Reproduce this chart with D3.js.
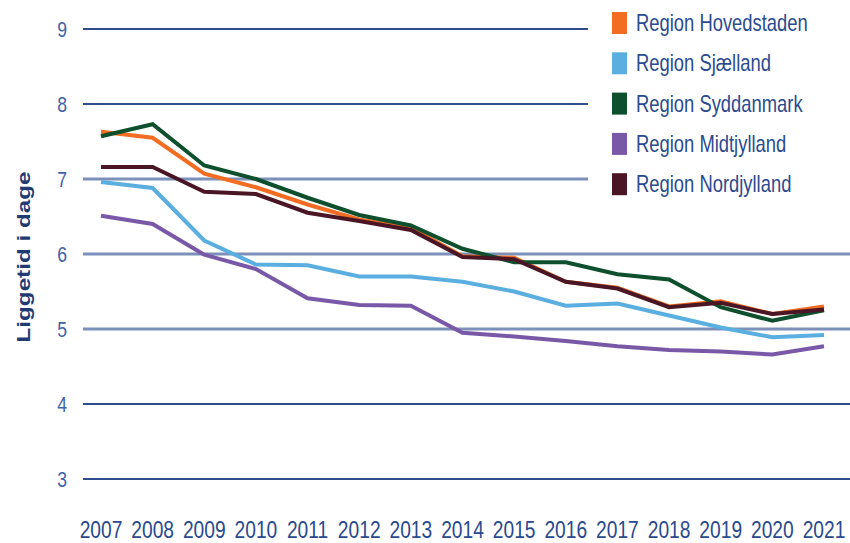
<!DOCTYPE html>
<html>
<head>
<meta charset="utf-8">
<title>Liggetid i dage</title>
<script src="https://d3js.org/d3.v7.min.js"></script>
<style>
  body { margin: 0; background: #fff; }
  text { font-family: "Liberation Sans", Arial, sans-serif; }
</style>
</head>
<body>
<div id="chart"></div>
<script>
// years on the x axis
var years = [2007, 2008, 2009, 2010, 2011, 2012, 2013, 2014, 2015, 2016, 2017, 2018, 2019, 2020, 2021];

// y tick values
var yTicks = [3, 4, 5, 6, 7, 8, 9];

// series values (days)
var hovedstaden = [7.63, 7.55, 7.07, 6.89, 6.66, 6.46, 6.35, 5.97, 5.95, 5.63, 5.55, 5.30, 5.37, 5.20, 5.30];
var sjaelland    = [6.96, 6.88, 6.18, 5.86, 5.85, 5.70, 5.70, 5.63, 5.50, 5.31, 5.34, 5.18, 5.02, 4.89, 4.92];
var syddanmark   = [7.57, 7.73, 7.18, 7.00, 6.75, 6.52, 6.38, 6.07, 5.89, 5.89, 5.73, 5.66, 5.29, 5.11, 5.25];
var midtjylland  = [6.51, 6.40, 5.99, 5.80, 5.41, 5.32, 5.31, 4.95, 4.90, 4.84, 4.77, 4.72, 4.70, 4.66, 4.77];
var nordjylland  = [7.16, 7.16, 6.83, 6.80, 6.55, 6.44, 6.32, 5.96, 5.93, 5.63, 5.54, 5.29, 5.35, 5.20, 5.26];

var seriesNames = ["Region Hovedstaden", "Region Sjælland", "Region Syddanmark", "Region Midtjylland", "Region Nordjylland"];
var seriesValues = [hovedstaden, sjaelland, syddanmark, midtjylland, nordjylland];
var seriesColors = ["#f26c22", "#5aaee0", "#0e4f2d", "#7a58a8", "#4a1626"];

var width = 850, height = 543;
var squeeze = 0.8; // the source font is a narrow one

var svg = d3.select("#chart").append("svg")
    .attr("width", width)
    .attr("height", height);

var x = d3.scaleLinear().domain([2007, 2021]).range([101, 824]);
var y = d3.scaleLinear().domain([3, 9]).range([479, 29]);

// gridlines
svg.append("g")
    .selectAll("line")
    .data(yTicks)
    .enter().append("line")
    .attr("x1", 83)
    .attr("x2", width)
    .attr("y1", function(d) { return y(d); })
    .attr("y2", function(d) { return y(d); })
    .attr("stroke", function(d) { return (d >= 5 && d <= 7) ? "#7d90b9" : "#2f4d8c"; })
    .attr("stroke-width", function(d) { return (d >= 5 && d <= 7) ? 3 : 2; });

// y tick labels
svg.append("g")
    .selectAll("text")
    .data(yTicks)
    .enter().append("text")
    .attr("transform", function(d) { return "translate(67," + (y(d) + 8) + ") scale(" + squeeze + ",1)"; })
    .attr("text-anchor", "end")
    .attr("font-size", 22)
    .attr("fill", "#3f62a8")
    .text(function(d) { return d; });

// x labels
svg.append("g")
    .selectAll("text")
    .data(years)
    .enter().append("text")
    .attr("transform", function(d) { return "translate(" + x(d) + ",538) scale(" + squeeze + ",1)"; })
    .attr("text-anchor", "middle")
    .attr("font-size", 24)
    .attr("fill", "#2a4a8e")
    .text(function(d) { return d; });

// y axis title
svg.append("text")
    .attr("transform", "translate(30,257) rotate(-90)")
    .attr("text-anchor", "middle")
    .attr("font-size", 19)
    .attr("font-weight", "bold")
    .attr("fill", "#1f3b72")
    .attr("textLength", 171)
    .attr("lengthAdjust", "spacingAndGlyphs")
    .text("Liggetid i dage");

// lines
var line = d3.line()
    .x(function(d, i) { return x(years[i]); })
    .y(function(d) { return y(d); });

svg.append("g")
    .selectAll("path")
    .data(seriesValues)
    .enter().append("path")
    .attr("d", line)
    .attr("fill", "none")
    .attr("stroke", function(d, i) { return seriesColors[i]; })
    .attr("stroke-width", 4)
    .attr("stroke-linejoin", "miter");

// legend
var legend = svg.append("g");
legend.append("rect")
    .attr("x", 588).attr("y", 0)
    .attr("width", width - 588).attr("height", 205)
    .attr("fill", "#fff");

var items = legend.selectAll("g.item")
    .data(seriesNames)
    .enter().append("g")
    .attr("class", "item")
    .attr("transform", function(d, i) { return "translate(612," + (23 + i * 40.3) + ")"; });

items.append("rect")
    .attr("x", 0).attr("y", -11)
    .attr("width", 15).attr("height", 22)
    .attr("fill", function(d, i) { return seriesColors[i]; });

items.append("text")
    .attr("transform", "translate(24,8) scale(" + squeeze + ",1)")
    .attr("font-size", 23)
    .attr("fill", "#2b4b90")
    .text(function(d) { return d; });
</script>
</body>
</html>
